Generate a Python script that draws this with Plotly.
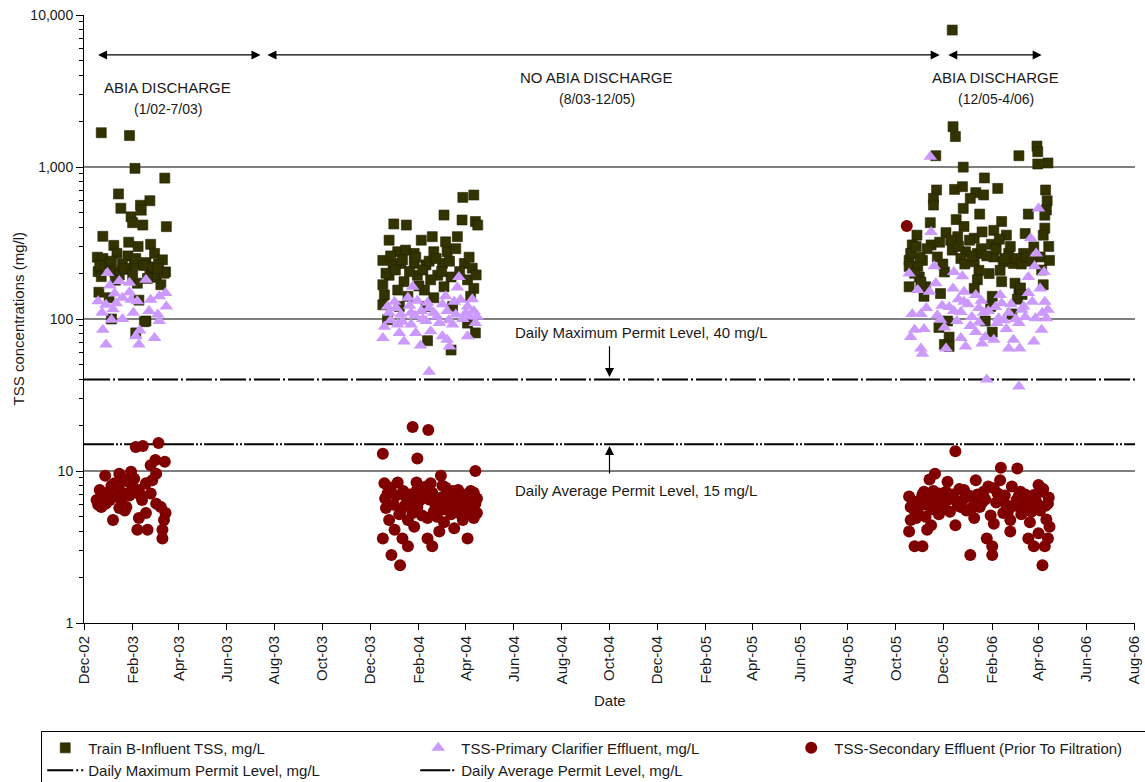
import plotly.graph_objects as go
import math

# ---- Train B influent TSS (mg/L) : (date, value) ----
influent_2003 = [
    ("2002-12-23", 1680), ("2003-01-28", 1610), ("2003-02-04", 980), ("2003-03-14", 845),
    ("2003-01-14", 665), ("2003-02-23", 600), ("2003-01-17", 535), ("2003-02-11", 560),
    ("2003-02-12", 520), ("2003-01-30", 470), ("2003-02-01", 430), ("2003-02-14", 415),
    ("2003-03-16", 405), ("2002-12-25", 350), ("2003-01-08", 305), ("2003-01-27", 320),
    ("2003-02-08", 300), ("2003-02-24", 310), ("2003-01-12", 270), ("2002-12-18", 255),
    ("2002-12-25", 250), ("2003-01-26", 260), ("2003-03-01", 270), ("2003-03-11", 245),
    ("2003-01-02", 230), ("2003-01-19", 230), ("2003-02-03", 228), ("2003-02-18", 235),
    ("2002-12-19", 205), ("2003-01-09", 205), ("2003-01-24", 212), ("2003-02-23", 208),
    ("2003-03-15", 204), ("2002-12-23", 190), ("2003-01-15", 195), ("2003-03-03", 188),
    ("2003-02-07", 172), ("2003-03-09", 168), ("2002-12-20", 150), ("2003-01-02", 138),
    ("2003-02-09", 133), ("2003-02-18", 97), ("2003-02-05", 81), ("2003-01-05", 100),
    ("2003-02-16", 96), ("2003-01-05", 240), ("2003-01-21", 215), ("2003-02-05", 250),
    ("2003-02-15", 225), ("2003-02-27", 220), ("2003-03-06", 230), ("2003-03-13", 200),
    ("2002-12-21", 225), ("2003-01-10", 180), ("2003-02-01", 195), ("2003-02-20", 185),
    ("2003-03-05", 215),
]
influent_2004 = [
    ("2004-03-28", 631), ("2004-04-11", 654), ("2004-03-04", 483), ("2004-03-27", 448),
    ("2004-04-13", 438), ("2004-04-16", 415), ("2003-12-31", 422), ("2004-01-16", 415),
    ("2003-12-25", 330), ("2004-02-04", 330), ("2004-02-18", 348), ("2004-03-06", 322),
    ("2004-03-21", 348), ("2003-12-17", 243), ("2004-01-05", 277), ("2004-01-15", 284),
    ("2004-01-26", 270), ("2004-02-20", 277), ("2004-03-08", 277), ("2004-03-19", 290),
    ("2003-12-30", 227), ("2004-01-09", 232), ("2004-02-10", 227), ("2004-03-02", 232),
    ("2004-03-30", 232), ("2004-04-09", 216), ("2003-12-25", 194), ("2004-01-30", 194),
    ("2004-02-25", 194), ("2004-03-13", 189), ("2004-01-13", 176), ("2004-02-16", 181),
    ("2004-04-03", 181), ("2004-01-05", 155), ("2004-02-08", 155), ("2004-03-04", 163),
    ("2004-04-11", 159), ("2003-12-19", 144), ("2004-01-18", 141), ("2004-02-20", 138),
    ("2004-04-07", 141), ("2003-12-17", 124), ("2004-01-07", 121), ("2004-02-10", 121),
    ("2004-03-15", 121), ("2003-12-23", 99), ("2004-04-03", 94), ("2004-04-13", 81),
    ("2004-02-12", 72), ("2004-03-13", 62.5), ("2003-12-17", 168), ("2004-01-26", 232),
    ("2003-12-21", 200), ("2003-12-27", 260), ("2004-01-02", 210), ("2004-01-11", 245),
    ("2004-01-20", 205), ("2004-01-28", 255), ("2004-02-06", 210), ("2004-02-14", 240),
    ("2004-02-23", 250), ("2004-03-01", 205), ("2004-03-11", 240), ("2004-03-24", 205),
    ("2004-04-05", 255), ("2004-04-14", 195), ("2004-02-01", 165),
]
influent_2006 = [
    ("2005-12-12", 7960), ("2005-12-13", 1841), ("2005-12-16", 1586), ("2005-11-21", 1186),
    ("2005-12-26", 998), ("2006-03-07", 1186), ("2006-03-30", 1373), ("2006-03-31", 1260),
    ("2006-03-31", 1046), ("2006-04-13", 1063), ("2006-01-22", 847), ("2005-11-22", 706),
    ("2005-12-15", 712), ("2005-12-25", 742), ("2006-01-11", 678), ("2006-02-08", 723),
    ("2006-04-10", 706), ("2005-11-18", 622), ("2005-11-18", 562), ("2006-01-04", 622),
    ("2006-01-21", 655), ("2006-04-12", 600), ("2005-12-26", 534), ("2006-01-16", 490),
    ("2006-03-19", 490), ("2006-04-11", 522), ("2006-04-09", 482), ("2005-12-17", 451),
    ("2005-11-14", 430), ("2006-02-13", 438), ("2005-12-27", 406), ("2006-04-09", 396),
    ("2005-10-28", 356), ("2005-12-19", 348), ("2006-01-09", 340), ("2006-01-19", 374),
    ("2006-02-03", 383), ("2006-02-19", 356), ("2006-03-15", 365), ("2006-04-07", 356),
    ("2005-10-22", 307), ("2005-11-15", 307), ("2005-12-12", 284), ("2005-12-29", 277),
    ("2006-01-13", 270), ("2006-02-03", 256), ("2006-02-22", 270), ("2006-03-13", 270),
    ("2006-03-26", 298), ("2005-10-18", 243), ("2005-11-04", 243), ("2005-11-23", 256),
    ("2005-12-23", 250), ("2006-01-09", 238), ("2006-02-15", 238), ("2006-02-28", 232),
    ("2006-04-03", 256), ("2006-04-15", 243), ("2005-10-18", 222), ("2005-10-29", 222),
    ("2005-12-02", 204), ("2006-01-15", 209), ("2006-02-11", 209), ("2005-10-31", 189),
    ("2006-01-28", 199), ("2005-10-18", 163), ("2005-11-08", 163), ("2006-01-13", 181),
    ("2006-02-13", 176), ("2006-03-02", 172), ("2006-03-07", 151), ("2006-04-07", 168),
    ("2005-11-06", 141), ("2005-11-27", 147), ("2006-01-09", 159), ("2006-02-01", 141),
    ("2006-01-30", 121), ("2006-02-26", 108), ("2005-12-06", 97), ("2006-01-23", 97),
    ("2005-11-25", 88), ("2005-12-08", 76), ("2006-02-01", 82), ("2005-12-02", 68),
    ("2005-12-08", 66), ("2005-10-20", 270), ("2005-10-25", 200), ("2005-10-27", 300),
    ("2005-11-01", 255), ("2005-11-02", 175), ("2005-11-10", 290), ("2005-11-26", 320),
    ("2005-11-30", 230), ("2005-12-04", 370), ("2005-12-10", 330), ("2005-12-20", 300),
    ("2005-12-28", 230), ("2006-01-03", 330), ("2006-01-06", 260), ("2006-01-18", 290),
    ("2006-01-25", 260), ("2006-01-31", 310), ("2006-02-06", 290), ("2006-02-10", 335),
    ("2006-02-17", 250), ("2006-02-24", 300), ("2006-03-04", 250), ("2006-03-10", 230),
    ("2006-03-17", 255), ("2006-03-23", 240), ("2006-03-09", 160), ("2006-03-11", 145),
    ("2006-03-05", 135), ("2006-04-05", 210), ("2006-04-14", 300),
]

# ---- primary clarifier effluent TSS (mg/L) ----
primary_2003 = [
    ("2002-12-31", 201), ("2003-01-03", 166), ("2003-01-15", 178), ("2003-01-28", 173),
    ("2003-02-18", 181), ("2002-12-19", 131), ("2002-12-29", 124), ("2003-01-11", 127),
    ("2003-01-19", 138), ("2003-01-30", 134), ("2003-02-07", 131), ("2003-02-24", 134),
    ("2003-03-07", 141), ("2003-03-15", 148), ("2002-12-24", 110), ("2003-01-07", 116),
    ("2003-02-02", 110), ("2003-02-22", 113), ("2003-03-05", 107), ("2003-03-16", 121),
    ("2003-01-05", 99), ("2003-01-19", 100), ("2003-03-07", 97), ("2002-12-25", 85),
    ("2003-02-10", 84), ("2003-02-05", 77), ("2003-03-01", 75), ("2002-12-29", 68),
    ("2003-02-09", 68), ("2003-01-09", 147), ("2003-01-28", 150),
]
primary_2004 = [
    ("2004-03-23", 189), ("2004-01-24", 163), ("2004-03-21", 161), ("2004-01-01", 130),
    ("2004-01-18", 138), ("2004-01-30", 132), ("2004-02-12", 128), ("2004-03-06", 141),
    ("2004-03-25", 134), ("2004-04-11", 113), ("2003-12-25", 110), ("2004-01-09", 107),
    ("2004-01-22", 110), ("2004-02-04", 113), ("2004-02-20", 110), ("2004-03-08", 113),
    ("2004-03-19", 107), ("2004-04-01", 110), ("2003-12-19", 89), ("2004-01-05", 92),
    ("2004-01-22", 92), ("2004-02-10", 97), ("2004-02-27", 94), ("2004-03-15", 92),
    ("2004-04-13", 94), ("2003-12-17", 75), ("2004-01-07", 81), ("2004-01-28", 81),
    ("2004-02-16", 83), ("2004-03-02", 77), ("2004-04-03", 77), ("2004-01-13", 71),
    ("2004-02-03", 67), ("2004-03-08", 73), ("2004-03-11", 66), ("2004-02-14", 45),
    ("2003-12-23", 121), ("2004-04-03", 121), ("2003-12-27", 98), ("2004-01-03", 118),
    ("2004-01-11", 96), ("2004-01-20", 122), ("2004-01-27", 105), ("2004-02-06", 100),
    ("2004-02-14", 118), ("2004-02-24", 104), ("2004-03-02", 125), ("2004-03-10", 98),
    ("2004-03-17", 130), ("2004-03-28", 100), ("2004-04-06", 104), ("2004-04-09", 135),
    ("2004-04-15", 104),
]
primary_2006 = [
    ("2005-11-14", 1166), ("2006-04-01", 534), ("2005-11-15", 374), ("2006-03-22", 340),
    ("2006-03-29", 270), ("2005-10-18", 199), ("2005-11-19", 222), ("2005-12-14", 204),
    ("2005-12-25", 191), ("2006-03-19", 189), ("2006-03-27", 222), ("2006-04-08", 204),
    ("2005-10-29", 155), ("2005-11-13", 151), ("2005-11-21", 172), ("2005-12-13", 159),
    ("2005-12-27", 151), ("2006-01-11", 144), ("2006-02-11", 144), ("2006-03-19", 148),
    ("2006-04-03", 159), ("2005-11-29", 122), ("2005-12-27", 130), ("2006-01-15", 118),
    ("2006-02-13", 127), ("2006-03-13", 121), ("2006-04-09", 130), ("2005-10-22", 108),
    ("2005-11-02", 108), ("2005-12-14", 113), ("2005-12-23", 111), ("2006-01-06", 103),
    ("2006-01-21", 110), ("2006-02-09", 101), ("2006-02-22", 110), ("2006-03-15", 103),
    ("2006-03-28", 101), ("2006-04-13", 115), ("2005-11-27", 99), ("2005-12-18", 97),
    ("2006-01-15", 95), ("2006-02-07", 94), ("2006-03-07", 94), ("2006-04-11", 101),
    ("2005-10-25", 85), ("2005-11-06", 86), ("2005-12-02", 88), ("2006-01-11", 82),
    ("2006-02-19", 86), ("2006-04-05", 85), ("2005-10-20", 76), ("2005-12-23", 75),
    ("2006-01-23", 76), ("2006-02-03", 73), ("2006-02-28", 73), ("2006-03-26", 71),
    ("2005-11-02", 64), ("2005-12-04", 64), ("2005-12-29", 66), ("2006-01-19", 69),
    ("2006-02-22", 64), ("2005-11-04", 59), ("2006-03-08", 64), ("2006-01-25", 40),
    ("2006-03-07", 36), ("2005-11-09", 118), ("2005-11-23", 106), ("2005-12-08", 120),
    ("2005-12-20", 135), ("2006-01-01", 125), ("2006-01-18", 132), ("2006-01-27", 113),
    ("2006-02-05", 120), ("2006-02-16", 98), ("2006-02-25", 125), ("2006-03-03", 100),
    ("2006-03-11", 115), ("2006-03-24", 130), ("2006-04-06", 110), ("2006-01-04", 90),
]

# ---- secondary effluent TSS, prior to filtration (mg/L) ----
secondary_2003 = [
    ("2002-12-28", 9.3), ("2002-12-17", 6.45), ("2002-12-21", 7.5), ("2002-12-23", 5.8),
    ("2003-01-07", 4.76), ("2003-01-03", 6.45), ("2003-01-09", 8.3), ("2003-01-15", 9.6),
    ("2003-01-22", 7.1), ("2003-01-24", 5.8), ("2003-01-30", 9.9), ("2003-02-01", 7.9),
    ("2003-02-05", 14.4), ("2003-02-14", 14.6), ("2003-02-07", 4.1), ("2003-02-09", 4.9),
    ("2003-02-20", 4.1), ("2003-02-18", 5.3), ("2003-02-13", 6.45), ("2003-02-24", 7.1),
    ("2003-02-26", 8.7), ("2003-02-24", 10.9), ("2003-03-02", 11.8), ("2003-03-06", 15.3),
    ("2003-03-14", 11.5), ("2003-03-03", 6.1), ("2003-03-09", 5.8), ("2003-03-13", 4.76),
    ("2003-03-11", 4.1), ("2003-03-11", 3.6), ("2003-03-15", 5.3), ("2003-01-11", 6.8),
    ("2003-01-17", 6.45), ("2003-01-26", 8.5), ("2003-02-09", 7.5), ("2003-02-18", 8.3),
    ("2002-12-25", 6.8), ("2002-12-29", 6.1), ("2003-01-15", 5.7), ("2003-01-22", 5.5),
    ("2003-03-03", 9.6), ("2002-12-19", 6.0), ("2002-12-31", 7.2), ("2003-01-14", 7.8),
    ("2003-01-28", 6.9), ("2003-02-03", 8.9), ("2003-02-11", 6.9), ("2003-01-19", 8.9),
    ("2003-01-05", 8.0),
]
secondary_2004 = [
    ("2004-01-24", 19.5), ("2004-02-13", 18.6), ("2003-12-17", 13.0), ("2004-01-30", 12.1),
    ("2004-04-13", 10.0), ("2004-02-29", 9.3), ("2003-12-19", 8.3), ("2004-01-05", 8.4),
    ("2004-01-29", 8.4), ("2004-02-16", 8.3), ("2003-12-23", 7.1), ("2004-01-15", 6.8),
    ("2004-02-08", 6.95), ("2004-03-08", 7.1), ("2004-03-25", 6.45), ("2004-04-13", 6.1),
    ("2003-12-21", 5.7), ("2004-01-09", 5.5), ("2004-01-30", 5.8), ("2004-02-20", 5.4),
    ("2004-03-11", 5.7), ("2004-04-03", 5.5), ("2003-12-25", 4.76), ("2004-01-18", 4.76),
    ("2004-02-12", 4.9), ("2004-03-04", 4.6), ("2004-03-28", 4.76), ("2004-04-11", 4.9),
    ("2003-12-17", 3.6), ("2004-01-11", 3.6), ("2004-02-12", 3.6), ("2004-04-03", 3.6),
    ("2004-01-18", 3.2), ("2004-02-18", 3.2), ("2003-12-28", 2.8), ("2004-01-08", 2.4),
    ("2004-02-27", 4.0), ("2004-01-01", 4.1), ("2004-01-26", 4.3), ("2004-03-17", 4.2),
    ("2004-01-22", 6.2), ("2004-02-25", 6.3), ("2004-03-19", 5.9), ("2003-12-31", 6.0),
    ("2004-02-06", 7.6), ("2004-04-07", 7.4), ("2004-03-02", 8.0), ("2003-12-20", 6.6),
    ("2003-12-27", 7.8), ("2004-01-03", 6.9), ("2004-01-07", 5.2), ("2004-01-12", 7.4),
    ("2004-01-14", 5.9), ("2004-01-20", 7.0), ("2004-01-24", 5.3), ("2004-01-28", 7.3),
    ("2004-02-02", 6.4), ("2004-02-05", 5.1), ("2004-02-10", 7.9), ("2004-02-14", 6.5),
    ("2004-02-18", 7.2), ("2004-02-22", 6.0), ("2004-02-24", 5.0), ("2004-03-01", 6.7),
    ("2004-03-04", 5.6), ("2004-03-06", 7.8), ("2004-03-10", 6.2), ("2004-03-13", 5.2),
    ("2004-03-15", 7.4), ("2004-03-17", 6.7), ("2004-03-22", 7.5), ("2004-03-23", 5.3),
    ("2004-03-27", 6.9), ("2004-03-30", 5.8), ("2004-04-01", 7.0), ("2004-04-05", 6.3),
    ("2004-04-09", 5.2), ("2004-04-11", 7.2), ("2004-04-15", 6.6), ("2004-04-15", 5.3),
]
secondary_2006 = [
    ("2005-10-15", 409), ("2005-12-16", 13.5), ("2006-02-12", 10.5), ("2006-03-05", 10.4),
    ("2005-11-20", 9.6), ("2006-01-11", 8.7), ("2005-12-06", 8.5), ("2006-02-11", 8.7),
    ("2006-04-01", 8.1), ("2005-11-13", 8.8), ("2005-10-18", 6.8), ("2005-11-06", 7.3),
    ("2005-11-25", 7.1), ("2005-12-27", 7.5), ("2006-01-21", 7.3), ("2006-02-03", 7.7),
    ("2006-03-09", 7.3), ("2006-03-26", 6.95), ("2006-04-13", 6.1), ("2005-10-25", 5.5),
    ("2005-11-10", 5.97), ("2005-12-02", 5.7), ("2005-12-23", 5.8), ("2006-01-09", 6.1),
    ("2006-01-30", 5.1), ("2006-02-19", 5.97), ("2006-03-17", 5.7), ("2006-04-03", 5.5),
    ("2005-10-20", 4.76), ("2005-11-15", 4.4), ("2005-12-16", 4.4), ("2006-01-09", 4.9),
    ("2006-02-03", 4.5), ("2006-02-24", 4.76), ("2006-03-21", 4.6), ("2006-04-15", 4.3),
    ("2005-10-18", 4.0), ("2005-11-10", 4.1), ("2006-02-24", 4.0), ("2006-04-01", 3.9),
    ("2006-01-25", 3.6), ("2006-03-19", 3.6), ("2006-04-13", 3.6), ("2005-10-25", 3.2),
    ("2005-11-04", 3.2), ("2006-02-01", 3.2), ("2006-03-26", 3.2), ("2006-04-09", 3.2),
    ("2006-01-04", 2.8), ("2006-02-01", 2.8), ("2006-04-06", 2.4), ("2006-01-04", 6.8),
    ("2005-12-06", 6.45), ("2006-02-11", 6.6), ("2006-03-04", 6.45), ("2005-10-31", 6.4),
    ("2005-12-12", 7.0), ("2006-01-19", 6.2), ("2006-02-26", 7.9), ("2006-03-13", 6.0),
    ("2005-11-25", 5.2), ("2006-02-15", 5.3), ("2006-04-07", 7.6), ("2005-10-20", 5.8),
    ("2005-10-23", 6.3), ("2005-10-27", 4.9), ("2005-10-29", 5.6), ("2005-11-02", 6.0),
    ("2005-11-04", 7.0), ("2005-11-08", 5.0), ("2005-11-12", 6.6), ("2005-11-17", 5.6),
    ("2005-11-18", 7.4), ("2005-11-22", 6.3), ("2005-11-28", 6.8), ("2005-11-30", 5.9),
    ("2005-12-04", 7.3), ("2005-12-09", 5.4), ("2005-12-14", 6.6), ("2005-12-19", 5.9),
    ("2005-12-21", 7.6), ("2005-12-25", 6.4), ("2005-12-30", 5.5), ("2006-01-02", 6.9),
    ("2006-01-06", 5.7), ("2006-01-13", 7.0), ("2006-01-16", 5.8), ("2006-01-23", 6.5),
    ("2006-01-27", 7.9), ("2006-02-06", 6.2), ("2006-02-08", 7.1), ("2006-02-17", 6.9),
    ("2006-02-21", 5.4), ("2006-03-01", 5.9), ("2006-03-07", 6.9), ("2006-03-10", 5.2),
    ("2006-03-15", 7.0), ("2006-03-19", 6.5), ("2006-03-23", 5.4), ("2006-03-29", 6.3),
    ("2006-04-04", 7.3), ("2006-04-10", 5.9), ("2006-04-11", 4.8), ("2006-04-14", 6.7),
]

# ---- permit limits (mg/L) ----
permit_dates = ["2002-12-01", "2006-08-02"]
daily_max_permit = [40, 40]
daily_avg_permit = [15, 15]

# ---- axis ticks ----
y_tickvals = [1, 10, 100, 1000, 10000]
y_ticktext = ["1", "10", "100", "1,000", "10,000"]


def unzip(*groups):
    pts = [p for g in groups for p in g]
    return [p[0] for p in pts], [p[1] for p in pts]


inf_x, inf_y = unzip(influent_2003, influent_2004, influent_2006)
pri_x, pri_y = unzip(primary_2003, primary_2004, primary_2006)
sec_x, sec_y = unzip(secondary_2003, secondary_2004, secondary_2006)

FONT = "Liberation Sans Narrow, Arial Narrow, Liberation Sans, Arial, sans-serif"
TXT = "#1a1a1a"

fig = go.Figure()

# permit lines first so the markers sit on top of them
fig.add_trace(go.Scatter(
    x=permit_dates, y=daily_max_permit, mode="lines",
    name="Daily Maximum Permit Level, mg/L", legendrank=4,
    line=dict(color="black", width=2, dash="26px,3px,2px,3px"),
    hoverinfo="skip"))
fig.add_trace(go.Scatter(
    x=permit_dates, y=daily_avg_permit, mode="lines",
    name="Daily Average Permit Level, mg/L", legendrank=5,
    line=dict(color="black", width=2, dash="30px,2px,2px,2px,2px,2px"),
    hoverinfo="skip"))

fig.add_trace(go.Scatter(
    x=inf_x, y=inf_y, mode="markers", name="Train B-Influent TSS, mg/L", legendrank=1,
    marker=dict(symbol="square", size=10, color="#333300",
                line=dict(color="#222200", width=0.6))))
fig.add_trace(go.Scatter(
    x=pri_x, y=pri_y, mode="markers", name="TSS-Primary Clarifier Effluent, mg/L",
    legendrank=2,
    marker=dict(symbol="triangle-up", size=12, color="#CC99FF", line=dict(width=0))))
fig.add_trace(go.Scatter(
    x=sec_x, y=sec_y, mode="markers",
    name="TSS-Secondary Effluent (Prior To Filtration)", legendrank=3,
    marker=dict(symbol="circle", size=12, color="#800000", line=dict(width=0))))

ann = []
# discharge period arrows along the top
ARROW_Y = math.log10(5460)
for start, end in [("2002-12-17", "2003-07-14"),
                   ("2003-07-21", "2005-11-26"),
                   ("2005-12-05", "2006-04-05")]:
    ann.append(dict(x=end, y=ARROW_Y, ax=start, ay=ARROW_Y, xref="x", yref="y",
                    axref="x", ayref="y", text="", showarrow=True,
                    arrowside="end+start", arrowhead=2, arrowsize=1.5,
                    arrowwidth=1.2, arrowcolor="black"))

period_labels = [
    (0.0799, "ABIA DISCHARGE", "(1/02-7/03)", 3.526, 3.382),
    (0.4877, "NO ABIA DISCHARGE", "(8/03-12/05)", 3.592, 3.447),
    (0.8675, "ABIA DISCHARGE", "(12/05-4/06)", 3.592, 3.447),
]
for px, head, sub, y1, y2 in period_labels:
    ann.append(dict(x=px, y=y1, xref="paper", yref="y", text=head, showarrow=False,
                    xanchor="center", yanchor="middle",
                    font=dict(family=FONT, size=15, color=TXT)))
    ann.append(dict(x=px, y=y2, xref="paper", yref="y", text=sub, showarrow=False,
                    xanchor="center", yanchor="middle",
                    font=dict(family=FONT, size=14, color=TXT)))

# permit level labels and pointers
ann.append(dict(x=0.4078, y=1.914, xref="paper", yref="y",
                text="Daily Maximum Permit Level, 40 mg/L", showarrow=False,
                xanchor="left", yanchor="middle", font=dict(family=FONT, size=15, color=TXT)))
ann.append(dict(x=0.4078, y=0.875, xref="paper", yref="y",
                text="Daily Average Permit Level, 15 mg/L", showarrow=False,
                xanchor="left", yanchor="middle", font=dict(family=FONT, size=15, color=TXT)))
ann.append(dict(x="2004-10-01", y=1.618, ax="2004-10-01", ay=1.83, xref="x", yref="y",
                axref="x", ayref="y", text="", showarrow=True, arrowhead=2,
                arrowsize=1.5, arrowwidth=1.2, arrowcolor="black"))
ann.append(dict(x="2004-10-01", y=1.164, ax="2004-10-01", ay=0.974, xref="x", yref="y",
                axref="x", ayref="y", text="", showarrow=True, arrowhead=2,
                arrowsize=1.5, arrowwidth=1.2, arrowcolor="black"))

# axis titles
ann.append(dict(x=-0.0624, y=0.5, xref="paper", yref="paper", textangle=-90,
                text="TSS concentrations (mg/l)", showarrow=False,
                xanchor="center", yanchor="middle", font=dict(family=FONT, size=15, color=TXT)))
ann.append(dict(x=0.5, y=-0.128, xref="paper", yref="paper", text="Date",
                showarrow=False, xanchor="center", yanchor="middle",
                font=dict(family=FONT, size=15, color=TXT)))

fig.update_layout(
    width=1145, height=782,
    margin=dict(l=84, r=10, t=15, b=159, autoexpand=False),
    paper_bgcolor="white", plot_bgcolor="white",
    font=dict(family=FONT, size=14, color=TXT),
    annotations=ann,
    showlegend=True,
    legend=dict(orientation="h", x=-0.0407, y=-0.177, xanchor="left", yanchor="top",
                bordercolor="black", borderwidth=1, bgcolor="white",
                entrywidth=322, entrywidthmode="pixels", itemwidth=36,
                tracegroupgap=0,
                font=dict(family=FONT, size=15, color=TXT), traceorder="normal"),
)

fig.update_xaxes(
    type="date", range=["2002-12-01", "2006-08-02"],
    tick0="2002-12-01", dtick="M2", tickformat="%b-%y", tickangle=-90,
    ticks="outside", ticklen=6, tickcolor="black", ticklabeloverflow="allow",
    showline=True, linecolor="black", linewidth=1, showgrid=False, zeroline=False,
    tickfont=dict(family=FONT, size=15, color=TXT))

fig.update_yaxes(
    type="log", range=[0, 4],
    tickmode="array", tickvals=y_tickvals, ticktext=y_ticktext,
    ticks="outside", ticklen=7, tickcolor="black",
    minor=dict(ticks="outside", ticklen=4, tickcolor="black", dtick="D1", showgrid=False),
    showline=True, linecolor="black", linewidth=1,
    showgrid=True, gridcolor="#7f7f7f", gridwidth=1.5,
    tickfont=dict(family=FONT, size=14, color=TXT))

fig.write_html("out.html")
